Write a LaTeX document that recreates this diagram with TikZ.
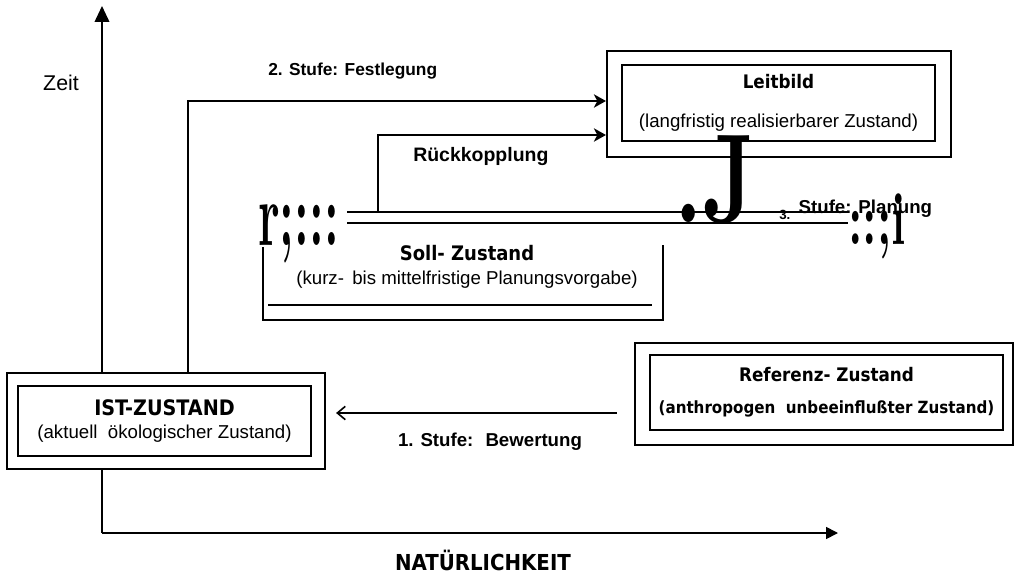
\documentclass[tikz,border=0pt]{standalone}
\usepackage{fontspec}
\setmainfont{Liberation Sans}
\newfontfamily\titelfont{DejaVuSansCondensed-Bold}[Extension=.ttf]
\newfontfamily\glyphfont{Latin Modern Roman}
\usetikzlibrary{arrows.meta}

\newcommand{\px}{0.75pt}
\newcommand{\titel}[2][15]{{\titelfont\fontsize{#1}{#1}\selectfont #2}}

\begin{document}
\begin{tikzpicture}[x=0.75pt,y=0.75pt,yscale=-1,xscale=1,
  aussen/.style={draw,line width=1.6pt,fill=white,inner sep=0pt},
  innen/.style={draw,line width=1.1pt,inner sep=0pt,align=center,font=\fontsize{14}{17}\selectfont},
  achse/.style={line width=1.3pt},
  pfeil/.style={line width=1.2pt,-{Stealth[length=9pt,width=10pt,inset=2.5pt]}},
  offen/.style={line width=1.2pt,-{Straight Barb[length=6pt,width=10pt]}},
  marke/.style={font=\bfseries\fontsize{14}{16}\selectfont,inner sep=0pt},
  zeichen/.style={font=\glyphfont\bfseries,inner sep=0pt,anchor=base west}]
\useasboundingbox (0,0) rectangle (1016,574);

%Coordinates
\coordinate (ursprung) at (102,533);
\coordinate (yende) at (102,6);
\coordinate (xende) at (838,533);
\coordinate (s2) at (188,101);
\coordinate (r2) at (0,135);
\coordinate (b1) at (0,413);
\coordinate (rueck) at (378,212);

%Axes
\draw[achse,-{Triangle[length=12pt,width=11pt]}] (ursprung) -- (yende);
\draw[achse,-{Triangle[length=9pt,width=9pt]}] (ursprung) -- (xende);

%Shape: Double Rectangle
\node[aussen,minimum width=318*\px,minimum height=96*\px] (istrahmen) at (166,421) {};
\node[innen,minimum width=293*\px,minimum height=70*\px] (ist) at (164.5,421) {\titel[16]{IST-ZUSTAND}\\[0pt](aktuell \ ökologischer Zustand)};
%Shape: Double Rectangle
\node[aussen,minimum width=344*\px,minimum height=106*\px] (leitrahmen) at (779,104) {};
\node[innen,minimum width=313*\px,minimum height=76*\px] (leitbild) at (778.5,103) {\titel[14]{Leitbild}\\[12pt](langfristig realisierbarer Zustand)};
%Shape: Double Rectangle
\node[aussen,minimum width=378*\px,minimum height=102*\px] (refrahmen) at (824,394) {};
\node[innen,minimum width=353*\px,minimum height=75*\px] (referenz) at (826.5,392.5) {\titel[14]{Referenz- Zustand}\\[7pt]\titel[12.6]{(anthropogen \ unbeeinflußter Zustand)}};

%Shape: Open Rectangle
\draw[line width=1.6pt] (263,247) -- (263,320) -- (663,320) -- (663,245);
\draw[line width=1pt] (268,305) -- (652,305);
\node[align=center,font=\fontsize{14}{17}\selectfont,inner sep=0pt] (soll) at (467,267) {\titel{Soll- Zustand}\\[1pt](kurz- \,bis mittelfristige Planungsvorgabe)};

%Straight Lines
\draw[line width=2.1pt] (347,212) -- (848,212);
\draw[line width=2.1pt] (347,223) -- (848,223);

%Connectors
\draw[pfeil] (istrahmen.north -| s2) |- (leitrahmen.west |- s2);
\draw[pfeil] (rueck) |- (leitrahmen.west |- r2);
\draw[offen,shorten <=12.75pt,shorten >=7.5pt] (refrahmen.west |- b1) -- (istrahmen.east |- b1);

% Text Node
\node[zeichen,font=\glyphfont\bfseries\fontsize{68}{68}\selectfont] (zeichenl) at (258,245) {\scalebox{0.52}[1]{r;:::}};
\node[zeichen,font=\glyphfont\bfseries\fontsize{95}{95}\selectfont] (zeichenj) at (674,222) {\scalebox{0.72}[1]{.J}};
\node[zeichen,font=\glyphfont\bfseries\fontsize{56}{56}\selectfont] (zeichenr) at (848,244) {\scalebox{0.62}[1]{::;i}};

% Text Node
\node[font=\fontsize{16}{18}\selectfont] (zeit) at (61,83) {Zeit};
\node[marke,anchor=west,font=\bfseries\fontsize{13}{15}\selectfont] (stufe2) at (268,71) {2. Stufe: Festlegung};
\node[marke,anchor=west,font=\bfseries\fontsize{14.6}{16}\selectfont] (rueckl) at (413,157) {Rückkopplung};
\node[marke,anchor=base west] (stufe3) at (779,213) {\raisebox{-5pt}{\fontsize{10}{12}\selectfont 3.}\;\,Stufe: Planung};
\node[marke] (stufe1) at (490,442) {1. Stufe: \ Bewertung};
\node[inner sep=0pt,anchor=base] (achsex) at (483,570) {\titel[16.5]{NATÜRLICHKEIT}};

\end{tikzpicture}
\end{document}
